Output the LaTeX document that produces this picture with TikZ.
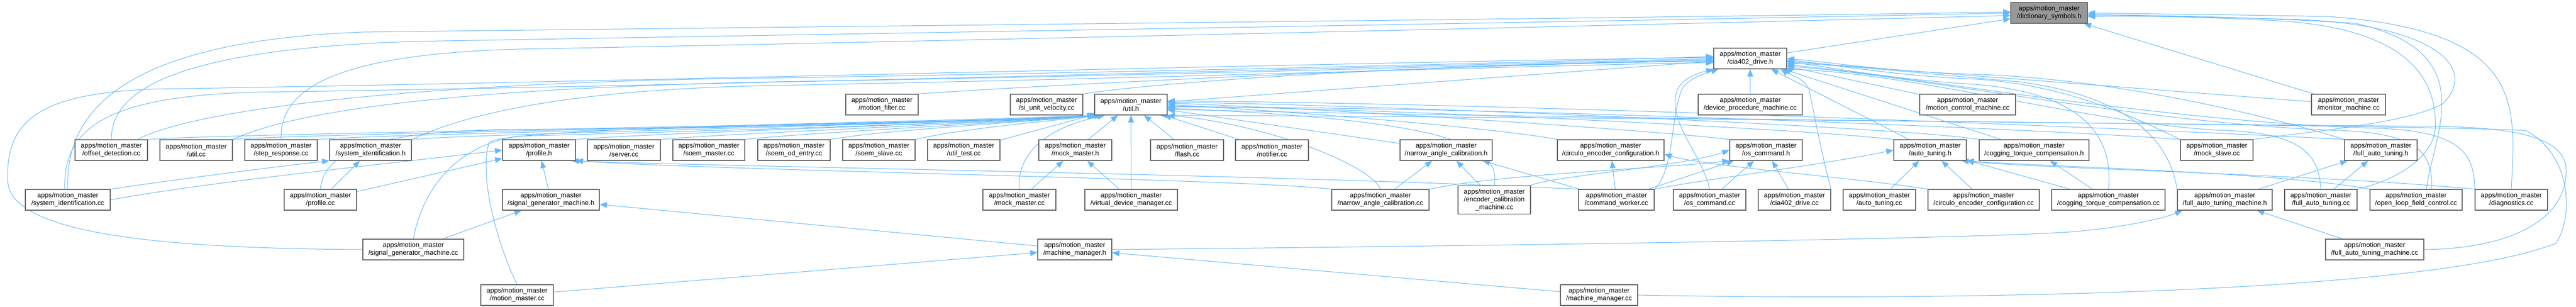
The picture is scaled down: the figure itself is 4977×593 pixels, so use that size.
\documentclass[tikz,border=0pt]{standalone}
\usepackage{fontspec}
\setmainfont{Liberation Sans}
\usetikzlibrary{arrows.meta}
\definecolor{edgec}{HTML}{63B8FF}
\definecolor{boxc}{HTML}{666666}
\definecolor{rootc}{HTML}{999999}
\pgfdeclarelayer{bg}
\pgfsetlayers{bg,main}
\tikzset{
 mmbox/.style={draw=boxc, line width=1.2pt, fill=white, align=center, minimum height=40pt, inner sep=2pt, font=\fontsize{13}{15}\selectfont},
 lnk/.style={draw=edgec, line width=1pt, -{Triangle[length=14pt,width=11pt]}},
}
\newcommand\mmnode[5]{\node[mmbox, minimum width=#4pt] (#1) at (#2,#3) {apps/motion\_master\\#5};}
\begin{document}
\begin{tikzpicture}[x=1pt,y=1pt]
\useasboundingbox (0,0) rectangle (4977,-593);
% row 0
\node[mmbox, fill=rootc, minimum width=148pt] (D) at (3959,-25) {apps/motion\_master\\/dictionary\_symbols.h};
% row 1
\mmnode{C}{3381.5}{-113}{141}{/cia402\_drive.h}
% row 2
\mmnode{mf}{1704}{-202}{140}{/motion\_filter.cc}
\mmnode{siu}{2022}{-202}{140}{/si\_unit\_velocity.cc}
\mmnode{U}{2185}{-202}{140}{/util.h}
\mmnode{dpm}{3381.5}{-202}{201}{/device\_procedure\_machine.cc}
\mmnode{mcm}{3801.5}{-202}{185}{/motion\_control\_machine.cc}
\mmnode{mon}{4537.5}{-202}{143}{/monitor\_machine.cc}
% row 3
\mmnode{od}{215}{-290}{140}{/offset\_detection.cc}
\mmnode{ucc}{379}{-290}{140}{/util.cc}
\mmnode{sr}{543}{-290}{140}{/step\_response.cc}
\mmnode{sih}{716}{-290}{158}{/system\_identification.h}
\mmnode{ph}{1041.5}{-290}{141}{/profile.h}
\mmnode{srv}{1205.5}{-290}{141}{/server.cc}
\mmnode{sm}{1369.5}{-290}{139}{/soem\_master.cc}
\mmnode{sod}{1534}{-290}{140}{/soem\_od\_entry.cc}
\mmnode{ssl}{1698}{-290}{140}{/soem\_slave.cc}
\mmnode{ut}{1862}{-290}{140}{/util\_test.cc}
\mmnode{mmh}{2077.5}{-290}{141}{/mock\_master.h}
\mmnode{fl}{2293.5}{-290}{141}{/flash.cc}
\mmnode{nt}{2457.5}{-290}{141}{/notifier.cc}
\mmnode{nah}{2794}{-290}{178}{/narrow\_angle\_calibration.h}
\mmnode{ceh}{3112}{-290}{206}{/circulo\_encoder\_configuration.h}
\mmnode{osh}{3412}{-290}{140}{/os\_command.h}
\mmnode{ath}{3729}{-290}{140}{/auto\_tuning.h}
\mmnode{cth}{3930}{-290}{212}{/cogging\_torque\_compensation.h}
\mmnode{msl}{4283}{-290}{140}{/mock\_slave.cc}
\mmnode{fath}{4600}{-290}{140}{/full\_auto\_tuning.h}
% row 4
\mmnode{sic}{131}{-386}{164}{/system\_identification.cc}
\mmnode{pc}{619}{-386}{140}{/profile.cc}
\mmnode{sgh}{1064.5}{-386}{187}{/signal\_generator\_machine.h}
\mmnode{mmc}{1969.5}{-386}{141}{/mock\_master.cc}
\mmnode{vdm}{2185.5}{-386}{179}{/virtual\_device\_manager.cc}
\mmnode{nac}{2667}{-386}{188}{/narrow\_angle\_calibration.cc}
\node[mmbox, minimum width=140pt, minimum height=55pt] (ecm) at (2887,-386) {apps/motion\_master\\/encoder\_calibration\\\_machine.cc};
\mmnode{cw}{3123}{-386}{146}{/command\_worker.cc}
\mmnode{osc}{3303}{-386}{140}{/os\_command.cc}
\mmnode{cdc}{3467}{-386}{140}{/cia402\_drive.cc}
\mmnode{atc}{3631}{-386}{140}{/auto\_tuning.cc}
\mmnode{cec}{3832.5}{-386}{215}{/circulo\_encoder\_configuration.cc}
\mmnode{ctc}{4073.5}{-386}{219}{/cogging\_torque\_compensation.cc}
\mmnode{fatmh}{4298.5}{-386}{183}{/full\_auto\_tuning\_machine.h}
\mmnode{fatc}{4484}{-386}{140}{/full\_auto\_tuning.cc}
\mmnode{olfc}{4668}{-386}{178}{/open\_loop\_field\_control.cc}
\mmnode{dg}{4852}{-386}{140}{/diagnostics.cc}
% row 5
\mmnode{sgc}{798.5}{-482}{195}{/signal\_generator\_machine.cc}
\mmnode{mgh}{2076.5}{-482}{143}{/machine\_manager.h}
\mmnode{fatmc}{4588}{-482}{190}{/full\_auto\_tuning\_machine.cc}
% row 6
\mmnode{mmm}{999}{-570}{140}{/motion\_master.cc}
\mmnode{mgc}{3089.5}{-570}{149}{/machine\_manager.cc}

\begin{pgfonlayer}{bg}
\fill[white] (0,0) rectangle (4977,-593);
% ---- to dictionary_symbols.h
\draw[lnk] (C) -- (D);
\draw[lnk] (mon) -- (D);
\draw[lnk] (sic.north) .. controls (125,-220) and (230,-80) .. (700,-62) .. controls (1500,-52) and (3200,-35) .. ([yshift=2pt]D.west);
\draw[lnk] (od.north) .. controls (215,-170) and (350,-95) .. (800,-80) .. controls (1600,-66) and (3200,-40) .. (D.west);
\draw[lnk] (sr.north) .. controls (540,-170) and (650,-105) .. (1000,-95) .. controls (1800,-80) and (3300,-45) .. ([yshift=-5pt]D.west);
\draw[lnk] (dg.north) .. controls (4860,-200) and (4880,-60) .. (4500,-32) .. controls (4300,-28) and (4150,-27) .. (D.east);
\draw[lnk] ([xshift=20pt]olfc.north) .. controls (4700,-260) and (4800,-100) .. (4550,-45) .. controls (4350,-32) and (4150,-30) .. ([yshift=-3pt]D.east);
\draw[lnk] (msl.north east) .. controls (4450,-255) and (4650,-240) .. (4720,-200) .. controls (4790,-130) and (4700,-50) .. (4450,-38) .. controls (4250,-32) and (4100,-30) .. ([yshift=-5pt]D.east);
\draw[lnk] (fatc.north east) .. controls (4640,-345) and (4700,-300) .. (4705,-250) .. controls (4710,-150) and (4650,-55) .. (4400,-40) .. controls (4250,-32) and (4100,-30) .. ([yshift=-7pt]D.east);
% ---- to cia402_drive.h
\draw[lnk] (U) -- (C);
\draw[lnk] (dpm) -- (C);
\draw[lnk] (mcm) -- (C);
\draw[lnk] (mon) -- (C);
\draw[lnk] (ath) -- (C);
\draw[lnk] (cth) -- (C);
\draw[lnk] (mf.north east) .. controls (2000,-165) and (2800,-125) .. ([yshift=-4pt]C.west);
\draw[lnk] (siu.north east) .. controls (2300,-150) and (2900,-120) .. ([yshift=-6pt]C.west);
\draw[lnk] (sgc.west) .. controls (300,-480) and (20,-450) .. (15,-350) .. controls (10,-230) and (80,-180) .. (300,-172) .. controls (1200,-158) and (2600,-120) .. ([yshift=2pt]C.west);
\draw[lnk] ([xshift=-20pt]od.north east) .. controls (400,-200) and (900,-160) .. (1400,-152) .. controls (2200,-140) and (3000,-120) .. ([yshift=4pt]C.west);
\draw[lnk] (ucc.north east) .. controls (600,-200) and (1000,-168) .. (1500,-158) .. controls (2300,-145) and (3000,-122) .. ([yshift=-2pt]C.west);
\draw[lnk] (sih.north east) .. controls (900,-220) and (1100,-172) .. (1500,-165) .. controls (2300,-150) and (3000,-125) .. ([yshift=-8pt]C.west);
\draw[lnk] ([xshift=-6pt]sic.north) .. controls (122,-250) and (200,-185) .. (500,-178) .. controls (1400,-165) and (2700,-128) .. (C.west);
\draw[lnk] (osc.north) .. controls (3290,-300) and (3220,-235) .. (3240,-175) .. controls (3250,-150) and (3285,-140) .. (C.south west);
\draw[lnk] (cw.north east) .. controls (3235,-330) and (3228,-220) .. (3250,-172) .. controls (3262,-150) and (3300,-140) .. ([xshift=10pt]C.south west);
\draw[lnk] (cdc.north east) .. controls (3520,-300) and (3505,-220) .. (3495,-172) .. controls (3485,-150) and (3450,-140) .. ([xshift=-12pt]C.south east);
\draw[lnk] (ctc.north) .. controls (4085,-260) and (4020,-175) .. (3800,-162) .. controls (3650,-152) and (3550,-132) .. ([yshift=-6pt]C.east);
\draw[lnk] (msl.north west) .. controls (4150,-240) and (4000,-160) .. (3800,-152) .. controls (3650,-145) and (3550,-125) .. ([yshift=-3pt]C.east);
\draw[lnk] (fath.north west) .. controls (4420,-235) and (4100,-150) .. (3800,-143) .. controls (3650,-138) and (3550,-122) .. (C.east);
\draw[lnk] (fatmh.north west) .. controls (4195,-300) and (4150,-190) .. (3900,-158) .. controls (3700,-140) and (3550,-125) .. ([yshift=-9pt]C.east);
\draw[lnk] (dg.north west) .. controls (4780,-300) and (4760,-255) .. (4600,-248) .. controls (4200,-238) and (3700,-148) .. ([yshift=-12pt]C.east);
\draw[lnk] ([xshift=30pt]olfc.north) .. controls (4700,-300) and (4680,-258) .. (4520,-252) .. controls (4150,-240) and (3700,-145) .. ([yshift=-15pt]C.east);
\draw[lnk] (fatc.north) .. controls (4480,-300) and (4450,-258) .. (4300,-252) .. controls (4050,-242) and (3700,-140) .. ([xshift=-4pt]C.south east);
% ---- to util.h
\draw[lnk] (od.north east) .. controls (405,-258) and (1900,-238) .. (U.south west);
\draw[lnk] (ucc.north east) .. controls (569,-258) and (1900,-238) .. ([xshift=2pt]U.south west);
\draw[lnk] (sr.north east) .. controls (733,-258) and (1900,-238) .. ([xshift=4pt]U.south west);
\draw[lnk] (sih.north east) .. controls (915,-258) and (1900,-238) .. ([xshift=6pt]U.south west);
\draw[lnk] (ph.north east) .. controls (1232,-258) and (1900,-238) .. ([xshift=8pt]U.south west);
\draw[lnk] (srv.north east) .. controls (1396,-258) and (1920,-238) .. ([xshift=10pt]U.south west);
\draw[lnk] (sm.north east) .. controls (1560,-256) and (1940,-238) .. ([xshift=12pt]U.south west);
\draw[lnk] (sod.north east) .. controls (1700,-252) and (1950,-238) .. ([xshift=14pt]U.south west);
\draw[lnk] (ssl.north east) .. controls (1850,-250) and (2000,-236) .. ([xshift=16pt]U.south west);
\draw[lnk] (ut) -- (U);
\draw[lnk] (pc.north) .. controls (625,-300) and (700,-252) .. (1000,-250) .. controls (1500,-247) and (1900,-234) .. ([xshift=3pt]U.south west);
\draw[lnk] (mmm.north) .. controls (960,-470) and (925,-340) .. (945,-275) .. controls (980,-245) and (1800,-236) .. ([xshift=5pt]U.south west);
\draw[lnk] (sgc.north) .. controls (812,-390) and (860,-285) .. (1000,-263) .. controls (1400,-252) and (1950,-236) .. ([xshift=7pt]U.south west);
\draw[lnk] (mmc.north) .. controls (1965,-320) and (1990,-255) .. ([xshift=20pt]U.south west);
\draw[lnk] (mmh) -- (U);
\draw[lnk] (vdm) -- (U);
\draw[lnk] (fl) -- (U);
\draw[lnk] (nt) -- (U);
\draw[lnk] (nah) -- (U);
\draw[lnk] (ceh.north west) .. controls (2900,-248) and (2500,-215) .. (U.east);
\draw[lnk] (osh.north west) .. controls (3200,-252) and (2600,-212) .. ([yshift=3pt]U.east);
\draw[lnk] (ath.north west) .. controls (3500,-250) and (2700,-210) .. ([yshift=-3pt]U.east);
\draw[lnk] (cth.north west) .. controls (3700,-248) and (2800,-207) .. ([yshift=5pt]U.east);
\draw[lnk] (msl.north west) .. controls (4000,-252) and (2900,-205) .. ([yshift=-5pt]U.east);
\draw[lnk] (fath.north west) .. controls (4300,-256) and (3000,-200) .. ([yshift=7pt]U.east);
\draw[lnk] (nac.north) .. controls (2650,-320) and (2450,-240) .. (U.south east);
\draw[lnk] (ecm.north) .. controls (2900,-280) and (2800,-232) .. ([yshift=-7pt]U.east);
\draw[lnk] (fatmc.east) .. controls (4860,-480) and (4958,-420) .. (4958,-330) .. controls (4958,-262) and (4850,-246) .. (4700,-244) .. controls (4000,-238) and (2800,-225) .. ([yshift=-9pt]U.east);
\draw[lnk] (mgc.east) .. controls (3800,-582) and (4700,-565) .. (4938,-470) .. controls (4972,-420) and (4970,-300) .. (4880,-252) .. controls (4700,-242) and (3000,-226) .. ([xshift=-15pt]U.south east);
% ---- other headers
\draw[lnk] (sgh) -- (ph);
\draw[lnk] (sgc) -- (sgh);
\draw[lnk] (mgh) -- (sgh);
\draw[lnk] (mmm) -- (mgh);
\draw[lnk] (mgc) -- (mgh);
\draw[lnk] (mgh.east) .. controls (2800,-476) and (3800,-462) .. (4000,-448) .. controls (4100,-440) and (4180,-422) .. ([xshift=10pt]fatmh.south west);
\draw[lnk] (fatmc) -- (fatmh);
\draw[lnk] (mmc) -- (mmh);
\draw[lnk] (vdm) -- (mmh);
\draw[lnk] (nac) -- (nah);
\draw[lnk] (ecm) -- (nah);
\draw[lnk] (cw) -- (nah);
\draw[lnk] (cw) -- (ceh);
\draw[lnk] (cec.north west) .. controls (3600,-345) and (3300,-322) .. ([yshift=-8pt]ceh.east);
\draw[lnk] (osc) -- (osh);
\draw[lnk] (cdc) -- (osh);
\draw[lnk] (cw) -- (osh);
\draw[lnk] (atc) -- (ath);
\draw[lnk] (cec) -- (ath);
\draw[lnk] (ctc) -- (cth);
\draw[lnk] (ctc) -- (ath);
\draw[lnk] (fatmh) -- (fath);
\draw[lnk] (fatc) -- (fath);
\draw[lnk] (sic.east) .. controls (400,-352) and (700,-322) .. (ph.west);
\draw[lnk] (sic.north east) .. controls (350,-345) and (550,-320) .. (sih.south west);
\draw[lnk] (pc) -- (sih);
\draw[lnk] (pc) -- (ph);
\draw[lnk] (nac.north west) .. controls (2400,-345) and (1400,-330) .. (ph.south east);
\draw[lnk] (cw.north west) .. controls (2500,-338) and (1400,-322) .. ([xshift=-8pt]ph.south east);
\draw[lnk] (ecm.north east) .. controls (3000,-340) and (3250,-322) .. (osh.west);
\draw[lnk] (nac.north east) .. controls (2900,-336) and (3200,-326) .. (osh.south west);
\draw[lnk] (cw.north east) .. controls (3300,-345) and (3500,-322) .. (ath.west);
\draw[lnk] (olfc.north west) .. controls (4400,-332) and (3950,-322) .. (ath.south east);
\draw[lnk] (dg.north west) .. controls (4500,-338) and (3950,-326) .. ([xshift=-10pt]ath.south east);
\end{pgfonlayer}
\end{tikzpicture}
\end{document}
